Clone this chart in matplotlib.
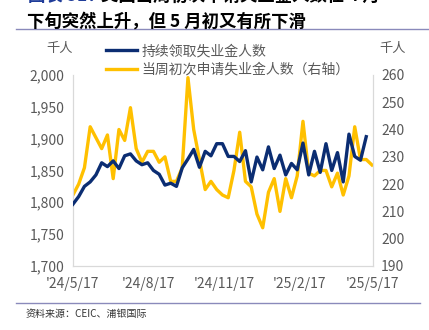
import matplotlib
matplotlib.use('Agg')
import matplotlib.pyplot as plt
import matplotlib.ticker as mticker
import pandas as pd

plt.rcParams['font.family'] = ['Noto Sans CJK SC', 'DejaVu Sans']

# 当周初次申请失业金人数（千人，右轴），每周
initial_claims = [216, 220, 226, 241, 237, 233, 238, 222, 240, 236,
                  248, 233, 228, 232, 232, 228, 230, 221, 221, 226,
                  259, 240, 229, 218, 221, 218, 216, 215, 225, 239,
                  221, 219, 209, 204, 217, 222, 210, 222, 215, 223,
                  243, 224, 223, 225, 225, 219, 224, 216, 223, 241,
                  229, 229, 227]
# 持续领取失业金人数（千人，左轴），滞后一周
continuing_claims = [1797, 1809, 1825, 1832, 1843, 1862, 1856, 1865, 1853, 1873,
                     1876, 1865, 1859, 1862, 1850, 1844, 1827, 1830, 1825, 1854,
                     1868, 1883, 1855, 1880, 1873, 1892, 1892, 1872, 1872, 1864,
                     1881, 1832, 1871, 1851, 1887, 1853, 1874, 1843, 1861, 1851,
                     1893, 1843, 1880, 1847, 1892, 1850, 1878, 1832, 1907, 1872,
                     1866, 1903]
tick_dates = ['2024-05-17', '2024-08-17', '2024-11-17', '2025-02-17', '2025-05-17']
tick_labels = ["'24/5/17", "'24/8/17", "'24/11/17", "'25/2/17", "'25/5/17"]

dates = pd.date_range('2024-05-17', periods=len(initial_claims), freq='7D')

navy = '#0b2d72'
gold = '#ffc000'
grey = '#595959'

fig = plt.figure(figsize=(4.29, 3.30), dpi=100)
ax = fig.add_axes([0.170, 0.194, 0.699, 0.579])
ax2 = ax.twinx()

l1, = ax.plot(dates[:len(continuing_claims)], continuing_claims, color=navy, lw=2.4,
              label='持续领取失业金人数', zorder=3)
l2, = ax2.plot(dates, initial_claims, color=gold, lw=2.4,
               label='当周初次申请失业金人数（右轴）', zorder=2)
ax.set_zorder(ax2.get_zorder() + 1)
ax.patch.set_visible(False)

ax.set_ylim(1700, 2000)
ax.set_yticks(range(1700, 2001, 50))
ax.yaxis.set_major_formatter(mticker.StrMethodFormatter('{x:,.0f}'))
ax2.set_ylim(190, 260)
ax2.set_yticks(range(190, 261, 10))

ax.set_xlim(pd.Timestamp('2024-05-17'), pd.Timestamp('2025-05-17'))
ax.set_xticks(pd.to_datetime(tick_dates))
ax.set_xticklabels(tick_labels)

for a in (ax, ax2):
    a.tick_params(length=0, colors=grey, labelsize=10, pad=6)
    for s in a.spines.values():
        s.set_color('#d9d9d9')
        s.set_linewidth(0.8)
    a.spines['top'].set_visible(False)
ax.tick_params(axis='x', pad=8)

fig.text(0.14, 0.852, '千人', fontsize=9.5, color=grey, ha='center', va='center')
fig.text(0.915, 0.852, '千人', fontsize=9.5, color=grey, ha='center', va='center')

fig.legend(handles=[l1, l2], loc='upper left', bbox_to_anchor=(0.232, 0.887),
           frameon=False, fontsize=10, labelcolor=grey, handlelength=2.2,
           handletextpad=0.3, labelspacing=0.3, borderpad=0)

# 标题（第一行在原图中被截掉大半）
fig.text(0.065, 1.012, '图表 51：', fontsize=12.5, fontweight='bold', color='#1f3c99',
         ha='left', va='center')
fig.text(0.235, 1.012, '美国当周初次申请失业金人数在 4 月', fontsize=12.5,
         fontweight='bold', color='black', ha='left', va='center')
fig.text(0.062, 0.935, '下旬突然上升，但 5 月初又有所下滑', fontsize=12.5,
         fontweight='bold', color='black', ha='left', va='center')
fig.add_artist(plt.Line2D([0.038, 1.0], [0.911, 0.911], color='#8a8abb', lw=1.0))
fig.add_artist(plt.Line2D([0.038, 0.98], [0.082, 0.082], color='#8a8abb', lw=1.0))
fig.text(0.06, 0.048, '资料来源：CEIC、浦银国际', fontsize=7.2, color='#333333',
         ha='left', va='center')

fig.savefig('out.png', dpi=100)
